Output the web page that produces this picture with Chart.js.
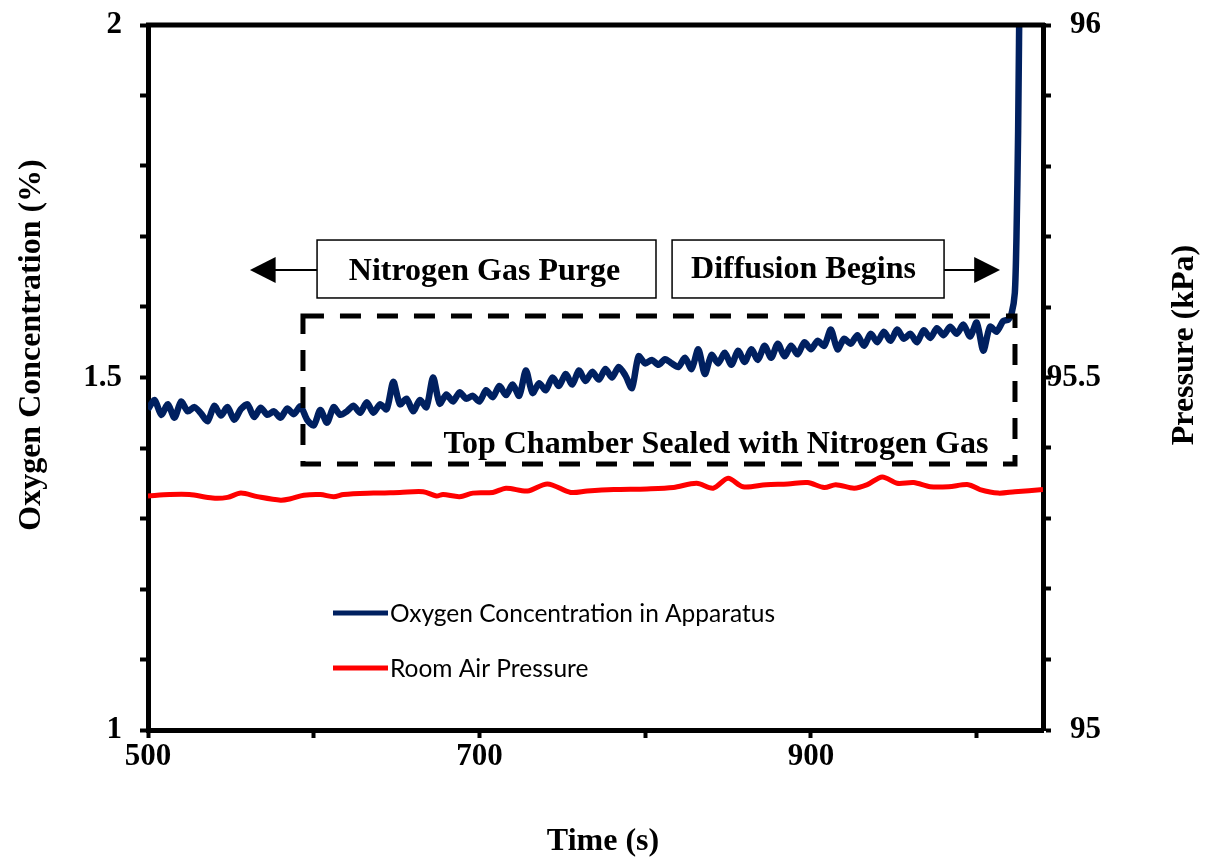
<!DOCTYPE html>
<html lang="en">
<head>
    <meta charset="UTF-8">
    <title>Oxygen Concentration and Room Air Pressure</title>
    <script src="https://cdn.jsdelivr.net/npm/chart.js"></script>
    <style>
        body { margin: 0; background: #fff; }
        canvas { display: block; }
    </style>
</head>
<body>
    <canvas id="chart" width="1205" height="858"></canvas>

    <script>
        // Oxygen concentration (%), sampled every 4 s from 500 s
        const o2StartTime = 500;
        const o2Step = 4;
        const o2Values = [
            1.455, 1.468, 1.447, 1.462, 1.443, 1.466, 1.452, 1.458, 1.449, 1.438,
            1.460, 1.446, 1.458, 1.440, 1.455, 1.462, 1.444, 1.457, 1.447, 1.452,
            1.443, 1.456, 1.448, 1.459, 1.440, 1.432, 1.454, 1.436, 1.458, 1.447,
            1.452, 1.460, 1.450, 1.465, 1.450, 1.462, 1.455, 1.494, 1.462, 1.470,
            1.452, 1.468, 1.458, 1.500, 1.463, 1.476, 1.466, 1.479, 1.470, 1.474,
            1.466, 1.482, 1.472, 1.488, 1.475, 1.490, 1.474, 1.510, 1.478, 1.492,
            1.482, 1.500, 1.488, 1.505, 1.490, 1.510, 1.495, 1.508, 1.497, 1.512,
            1.500, 1.515, 1.503, 1.485, 1.530, 1.520, 1.525, 1.518, 1.526, 1.520,
            1.515, 1.528, 1.512, 1.540, 1.505, 1.532, 1.520, 1.535, 1.518, 1.538,
            1.522, 1.540, 1.525, 1.545, 1.528, 1.548, 1.530, 1.545, 1.533, 1.550,
            1.540, 1.552, 1.545, 1.568, 1.540, 1.555, 1.548, 1.560, 1.545, 1.562,
            1.550, 1.565, 1.552, 1.568, 1.555, 1.562, 1.550, 1.567, 1.556, 1.570,
            1.560, 1.572, 1.562, 1.575, 1.558, 1.578, 1.538, 1.572, 1.565, 1.580
        ];
        // the sharp rise once the top chamber is opened
        const o2RiseTimes = [1019, 1021, 1023, 1024, 1025, 1026];
        const o2RiseValues = [1.582, 1.590, 1.620, 1.700, 1.850, 2.100];

        // Room air pressure (kPa)
        const pressureTimes = [
            500, 513, 525, 539, 548, 556, 566, 580, 586, 594,
            604, 612, 618, 636, 652, 666, 674, 678, 688, 696,
            708, 716, 729, 741, 755, 765, 781, 801, 817, 831,
            841, 850, 859, 873, 886, 898, 908, 915, 926, 934,
            943, 952, 962, 972, 983, 995, 1002, 1013, 1023, 1040
        ];
        const pressureValues = [
            95.332, 95.334, 95.334, 95.329, 95.330, 95.336, 95.331, 95.326, 95.328, 95.333,
            95.334, 95.331, 95.334, 95.336, 95.337, 95.338, 95.332, 95.334, 95.331, 95.336,
            95.337, 95.343, 95.339, 95.349, 95.337, 95.339, 95.341, 95.342, 95.344, 95.350,
            95.343, 95.357, 95.345, 95.348, 95.349, 95.351, 95.344, 95.348, 95.343, 95.348,
            95.359, 95.350, 95.351, 95.345, 95.345, 95.348, 95.341, 95.336, 95.338, 95.341
        ];

        const xLabels = [500, 700, 900];
        const leftLabels = [1, 1.5, 2];
        const rightLabels = [95, 95.5, 96];

        const serif = "'Liberation Serif', 'Times New Roman', serif";
        const BLUE = '#002060';
        const RED = '#ff0000';

        const o2Points = o2Values.map((v, i) => ({ x: o2StartTime + i * o2Step, y: v }))
            .concat(o2RiseTimes.map((t, i) => ({ x: t, y: o2RiseValues[i] })));
        const pressurePoints = pressureTimes.map((t, i) => ({ x: t, y: pressureValues[i] }));

        function labelIf(list) {
            return function (value) {
                return list.some(v => Math.abs(v - value) < 1e-6) ? String(value) : '';
            };
        }

        function axisGrid() {
            return {
                display: true,
                drawOnChartArea: false,
                drawTicks: true,
                tickLength: 8,
                tickWidth: 4,
                tickColor: '#000'
            };
        }

        // fixed width for the y axes, no extra room for the end labels
        function fixWidth(w) {
            return function (scale) {
                scale.width = w;
                scale.paddingTop = 0;
                scale.paddingBottom = 0;
            };
        }

        // frame, annotations, legend and axis titles
        const decorations = {
            id: 'decorations',
            afterDraw(chart) {
                const ctx = chart.ctx;
                const x = chart.scales.x;
                const y = chart.scales.y;
                const area = chart.chartArea;
                const px = v => x.getPixelForValue(v);
                const py = v => y.getPixelForValue(v);

                ctx.save();
                // top frame line
                ctx.strokeStyle = '#000';
                ctx.lineWidth = 5;
                ctx.beginPath();
                ctx.moveTo(area.left - 2, area.top);
                ctx.lineTo(area.right + 2, area.top);
                ctx.stroke();

                // dashed rectangle
                ctx.setLineDash([21, 16]);
                ctx.lineWidth = 5;
                ctx.strokeRect(px(593.5), py(1.5872), px(1023.1) - px(593.5), py(1.3773) - py(1.5872));
                ctx.setLineDash([]);

                // text boxes
                ctx.lineWidth = 1.5;
                ctx.fillStyle = '#fff';
                [[602, 806.5], [816.2, 980.3]].forEach(([a, b]) => {
                    ctx.fillRect(px(a), py(1.695), px(b) - px(a), py(1.6128) - py(1.695));
                    ctx.strokeRect(px(a), py(1.695), px(b) - px(a), py(1.6128) - py(1.695));
                });

                // arrows
                ctx.lineWidth = 2;
                ctx.fillStyle = '#000';
                const ay = py(1.6525);
                ctx.beginPath();
                ctx.moveTo(px(602), ay);
                ctx.lineTo(px(575), ay);
                ctx.stroke();
                ctx.beginPath();
                ctx.moveTo(px(561.5), ay);
                ctx.lineTo(px(577), ay - 13);
                ctx.lineTo(px(577), ay + 13);
                ctx.closePath();
                ctx.fill();
                ctx.beginPath();
                ctx.moveTo(px(980.3), ay);
                ctx.lineTo(px(1000), ay);
                ctx.stroke();
                ctx.beginPath();
                ctx.moveTo(px(1014.1), ay);
                ctx.lineTo(px(998.5), ay - 13);
                ctx.lineTo(px(998.5), ay + 13);
                ctx.closePath();
                ctx.fill();

                // annotation text
                ctx.font = 'bold 32px ' + serif;
                ctx.textAlign = 'center';
                ctx.textBaseline = 'middle';
                ctx.fillText('Nitrogen Gas Purge', px(703), py(1.6496));
                ctx.fillText('Diffusion Begins', px(895.5), py(1.6525));
                ctx.fillText('Top Chamber Sealed with Nitrogen Gas', px(842.7), py(1.4043));

                // legend
                ctx.font = "24.5px Lato, 'Noto Sans', sans-serif";
                ctx.textAlign = 'left';
                [[BLUE, 'Oxygen Concentration in Apparatus', 613], [RED, 'Room Air Pressure', 668]].forEach(([c, t, ly]) => {
                    ctx.strokeStyle = c;
                    ctx.lineWidth = 5;
                    ctx.beginPath();
                    ctx.moveTo(333, ly);
                    ctx.lineTo(388, ly);
                    ctx.stroke();
                    ctx.fillStyle = '#000';
                    ctx.fillText(t, 390, ly + 1);
                });

                // axis titles
                ctx.font = 'bold 32px ' + serif;
                ctx.textAlign = 'center';
                ctx.fillText('Time (s)', 603, 842);
                ctx.save();
                ctx.translate(32, 345);
                ctx.rotate(-Math.PI / 2);
                ctx.fillText('Oxygen Concentration (%)', 0, 0);
                ctx.restore();
                ctx.save();
                ctx.translate(1185, 345);
                ctx.rotate(-Math.PI / 2);
                ctx.fillText('Pressure (kPa)', 0, 0);
                ctx.restore();
                ctx.restore();
            }
        };

        new Chart(document.getElementById('chart').getContext('2d'), {
            type: 'line',
            data: {
                datasets: [{
                    label: 'Oxygen Concentration in Apparatus',
                    data: o2Points,
                    yAxisID: 'y',
                    borderColor: BLUE,
                    borderWidth: 6.5,
                    pointRadius: 0,
                    tension: 0.25,
                    borderJoinStyle: 'round',
                    clip: 0
                }, {
                    label: 'Room Air Pressure',
                    data: pressurePoints,
                    yAxisID: 'y2',
                    borderColor: RED,
                    borderWidth: 5,
                    pointRadius: 0,
                    tension: 0.3,
                    borderJoinStyle: 'round',
                    clip: 0
                }]
            },
            options: {
                responsive: false,
                animation: false,
                events: [],
                layout: { padding: { top: 25, left: 0, right: 104, bottom: 0 } },
                plugins: {
                    legend: { display: false },
                    tooltip: { enabled: false }
                },
                scales: {
                    x: {
                        type: 'linear',
                        min: 500,
                        max: 1040,
                        afterFit(scale) { scale.height = 128; },
                        border: { display: true, color: '#000', width: 5 },
                        grid: axisGrid(),
                        ticks: {
                            stepSize: 100,
                            includeBounds: false,
                            autoSkip: false,
                            maxRotation: 0,
                            padding: 0,
                            color: '#000',
                            font: { family: serif, size: 31, weight: 'bold' },
                            callback: labelIf(xLabels)
                        }
                    },
                    y: {
                        position: 'left',
                        min: 1,
                        max: 2,
                        afterFit: fixWidth(148),
                        border: { display: true, color: '#000', width: 5 },
                        grid: axisGrid(),
                        ticks: {
                            stepSize: 0.1,
                            autoSkip: false,
                            padding: 18,
                            color: '#000',
                            font: { family: serif, size: 31, weight: 'bold' },
                            callback: labelIf(leftLabels)
                        }
                    },
                    y2: {
                        position: 'right',
                        min: 95,
                        max: 96,
                        afterFit: fixWidth(58),
                        border: { display: true, color: '#000', width: 5 },
                        grid: axisGrid(),
                        ticks: {
                            stepSize: 0.1,
                            autoSkip: false,
                            padding: 2,
                            crossAlign: 'far',
                            color: '#000',
                            font: { family: serif, size: 31, weight: 'bold' },
                            callback: labelIf(rightLabels)
                        }
                    }
                }
            },
            plugins: [decorations]
        });
    </script>
</body>
</html>
